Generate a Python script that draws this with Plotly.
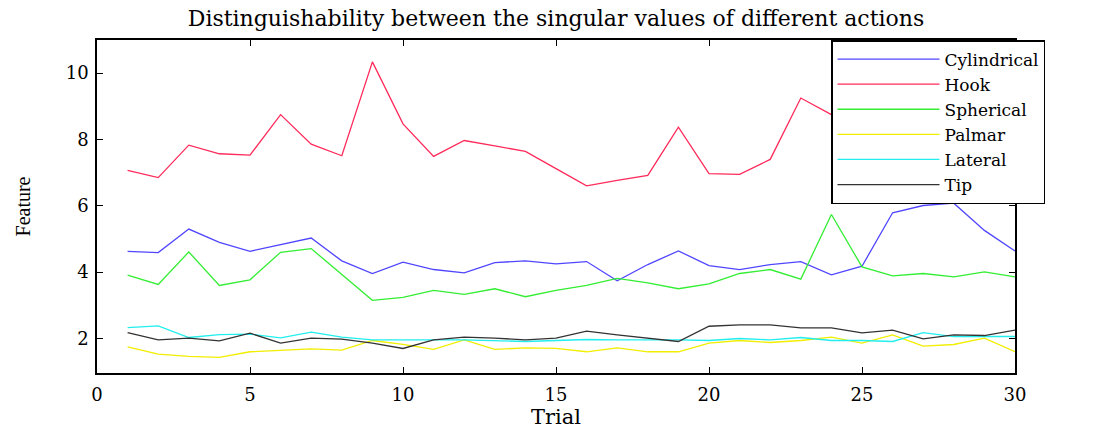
import plotly.graph_objects as go

trials = list(range(1, 31))

cylindrical = [4.63, 4.59, 5.30, 4.90, 4.63, 4.83, 5.03, 4.34, 3.96, 4.30,
               4.08, 3.98, 4.29, 4.34, 4.25, 4.32, 3.74, 4.23, 4.64, 4.20,
               4.08, 4.23, 4.32, 3.92, 4.18, 5.79, 6.01, 6.08, 5.26, 4.64]
hook = [7.07, 6.85, 7.83, 7.57, 7.53, 8.75, 7.86, 7.51, 10.34, 8.47,
        7.49, 7.97, 7.81, 7.64, 7.12, 6.60, 6.77, 6.92, 8.37, 6.97,
        6.95, 7.40, 9.25, 8.75, 8.30, 8.60, 9.00, 8.40, 8.80, 8.20]
spherical = [3.91, 3.63, 4.61, 3.60, 3.77, 4.60, 4.71, 3.94, 3.15, 3.24,
             3.45, 3.33, 3.50, 3.26, 3.45, 3.60, 3.81, 3.68, 3.50, 3.65,
             3.96, 4.08, 3.79, 5.74, 4.16, 3.89, 3.96, 3.86, 4.01, 3.86]
palmar = [1.75, 1.53, 1.46, 1.43, 1.60, 1.64, 1.69, 1.65, 1.94, 1.82,
          1.67, 1.96, 1.67, 1.72, 1.70, 1.60, 1.72, 1.60, 1.60, 1.86,
          1.94, 1.88, 1.94, 2.04, 1.86, 2.11, 1.77, 1.82, 2.01, 1.60]
lateral = [2.33, 2.38, 2.03, 2.12, 2.13, 2.02, 2.19, 2.04, 1.96, 1.95,
           1.96, 1.96, 1.93, 1.91, 1.94, 1.97, 1.96, 1.97, 1.96, 1.94,
           2.00, 1.96, 2.03, 1.94, 1.94, 1.91, 2.18, 2.06, 2.06, 2.06]
tip = [2.18, 1.96, 2.01, 1.93, 2.16, 1.86, 2.01, 1.98, 1.86, 1.70,
       1.96, 2.04, 2.01, 1.96, 2.01, 2.22, 2.11, 2.01, 1.91, 2.37,
       2.41, 2.41, 2.32, 2.32, 2.17, 2.25, 1.99, 2.11, 2.09, 2.25]

series_names = ["Cylindrical", "Hook", "Spherical", "Palmar", "Lateral", "Tip"]
series_values = [cylindrical, hook, spherical, palmar, lateral, tip]
series_colors = ["#5046ff", "#ff2a5a", "#33ee33", "#f2ee00", "#22eeee", "#333333"]

x_ticks = [0, 5, 10, 15, 20, 25, 30]
y_ticks = [2, 4, 6, 8, 10]

FONT = "DejaVu Serif, Liberation Serif, serif"
FONT2 = "Liberation Serif, Times New Roman, serif"

fig = go.Figure()
for name, vals, col in zip(series_names, series_values, series_colors):
    fig.add_trace(go.Scatter(x=trials, y=vals, mode="lines", name=name,
                             line=dict(color=col, width=1.3)))

axis_common = dict(showline=True, linecolor="black", linewidth=1.5, mirror="ticks",
                   ticks="inside", ticklen=6, tickcolor="black", showgrid=False,
                   zeroline=False, tickfont=dict(family=FONT, size=18, color="black"))

fig.update_layout(
    width=1105, height=432,
    margin=dict(l=97, r=90, t=40, b=44),
    paper_bgcolor="white", plot_bgcolor="white",
    title=dict(text="Distinguishability between the singular values of different actions",
               x=0.5, xref="paper", y=1 - 18 / 432, yref="container", yanchor="middle",
               xanchor="center", font=dict(family=FONT, size=22, color="black")),
    xaxis=dict(range=[0, 30], tickvals=x_ticks, ticklabelstandoff=5,
               title=dict(text="Trial", standoff=0, font=dict(family=FONT, size=21, color="black")),
               **axis_common),
    yaxis=dict(range=[0.96, 11], tickvals=y_ticks, ticklabelstandoff=3,
               title=dict(text="Feature", standoff=30, font=dict(family=FONT2, size=20, color="black")),
               **axis_common),
    legend=dict(x=(831 - 97) / 918, y=1, xanchor="left", yanchor="top",
                bgcolor="white", bordercolor="black", borderwidth=1.5,
                font=dict(family=FONT, size=17, color="black"),
                itemwidth=102, tracegroupgap=0),
    showlegend=True,
)

fig.write_html("out.html")
